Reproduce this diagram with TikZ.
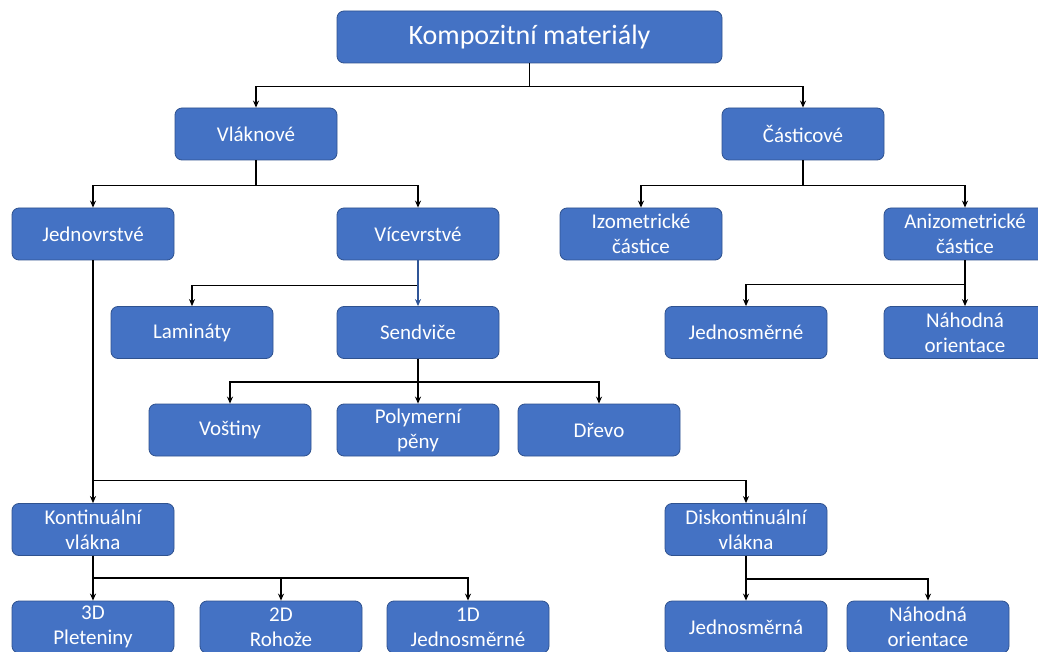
\documentclass[tikz,border=0pt]{standalone}
\usepackage{fontspec}
\setmainfont{Carlito}
\usetikzlibrary{arrows.meta}
\definecolor{boxblue}{HTML}{4472C4}
\definecolor{boxedge}{HTML}{2F528F}
\definecolor{linkblue}{HTML}{2F5597}
\tikzset{
  box/.style={rectangle, rounded corners=7pt, fill=boxblue, draw=boxedge, line width=0.8pt,
    text=white, align=center, minimum width=162pt, minimum height=52pt, inner sep=0pt,
    font=\fontsize{21}{25}\selectfont},
  bigbox/.style={box, minimum width=385pt, font=\fontsize{28}{32}\selectfont},
  conn/.style={draw=black, line width=1.2pt, -{Stealth[length=7pt,width=6pt]}},
  bconn/.style={conn, draw=linkblue, -{Stealth[length=7pt,width=6pt,color=linkblue]}}
}
\begin{document}
\begin{tikzpicture}[x=1pt,y=-1pt]
\clip (0,0) rectangle (1038,652);
\fill[white] (0,0) rectangle (1038,652);
% nodes
\node[bigbox] (komp) at (529.5,37) {Kompozitní materiály};
\node[box] (vlak) at (256,134) {Vláknové};
\node[box] (cast) at (803,134) {Částicové};
\node[box] (jedn) at (93,234) {Jednovrstvé};
\node[box] (vice) at (418,234) {Vícevrstvé};
\node[box] (izo) at (641,234) {Izometrické\\částice};
\node[box] (anizo) at (965,234) {Anizometrické\\částice};
\node[box] (lam) at (192,332.5) {Lamináty};
\node[box] (send) at (418,332.5) {Sendviče};
\node[box] (jsme) at (746,332.5) {Jednosměrné};
\node[box] (naho) at (965,332.5) {Náhodná\\orientace};
\node[box] (vost) at (230,430) {Voštiny};
\node[box] (poly) at (418,430) {Polymerní\\pěny};
\node[box] (drev) at (599,430) {Dřevo};
\node[box] (kont) at (93,529.5) {Kontinuální\\vlákna};
\node[box] (disk) at (746,529.5) {Diskontinuální\\vlákna};
\node[box] (tri) at (93,627) {3D\\Pleteniny};
\node[box] (dva) at (281,627) {2D\\Rohože};
\node[box] (jed) at (468,627) {1D\\Jednosměrné};
\node[box] (jsma) at (746,627) {Jednosměrná};
\node[box] (naho2) at (928,627) {Náhodná\\orientace};
% connectors
\draw[conn] (komp.south) -- ++(0,23) -| (vlak.north);
\draw[conn] (komp.south) -- ++(0,23) -| (cast.north);
\draw[conn] (vlak.south) -- ++(0,25) -| (jedn.north);
\draw[conn] (vlak.south) -- ++(0,25) -| (vice.north);
\draw[conn] (cast.south) -- ++(0,25) -| (izo.north);
\draw[conn] (cast.south) -- ++(0,25) -| (anizo.north);
\draw[conn] (vice.south) -- ++(0,25) -| (lam.north);
\draw[bconn] (vice.south) -- (send.north);
\draw[conn] (anizo.south) -- ++(0,24) -| (jsme.north);
\draw[conn] (anizo.south) -- (naho.north);
\draw[conn] (send.south) -- ++(0,23) -| (vost.north);
\draw[conn] (send.south) -- (poly.north);
\draw[conn] (send.south) -- ++(0,23) -| (drev.north);
\draw[conn] (jedn.south) -- (kont.north);
\draw[conn] (jedn.south) -- ++(0,220) -| (disk.north);
\draw[conn] (kont.south) -- (tri.north);
\draw[conn] (kont.south) -- ++(0,22) -| (dva.north);
\draw[conn] (kont.south) -- ++(0,22) -| (jed.north);
\draw[conn] (disk.south) -- (jsma.north);
\draw[conn] (disk.south) -- ++(0,23) -| (naho2.north);
\end{tikzpicture}
\end{document}
